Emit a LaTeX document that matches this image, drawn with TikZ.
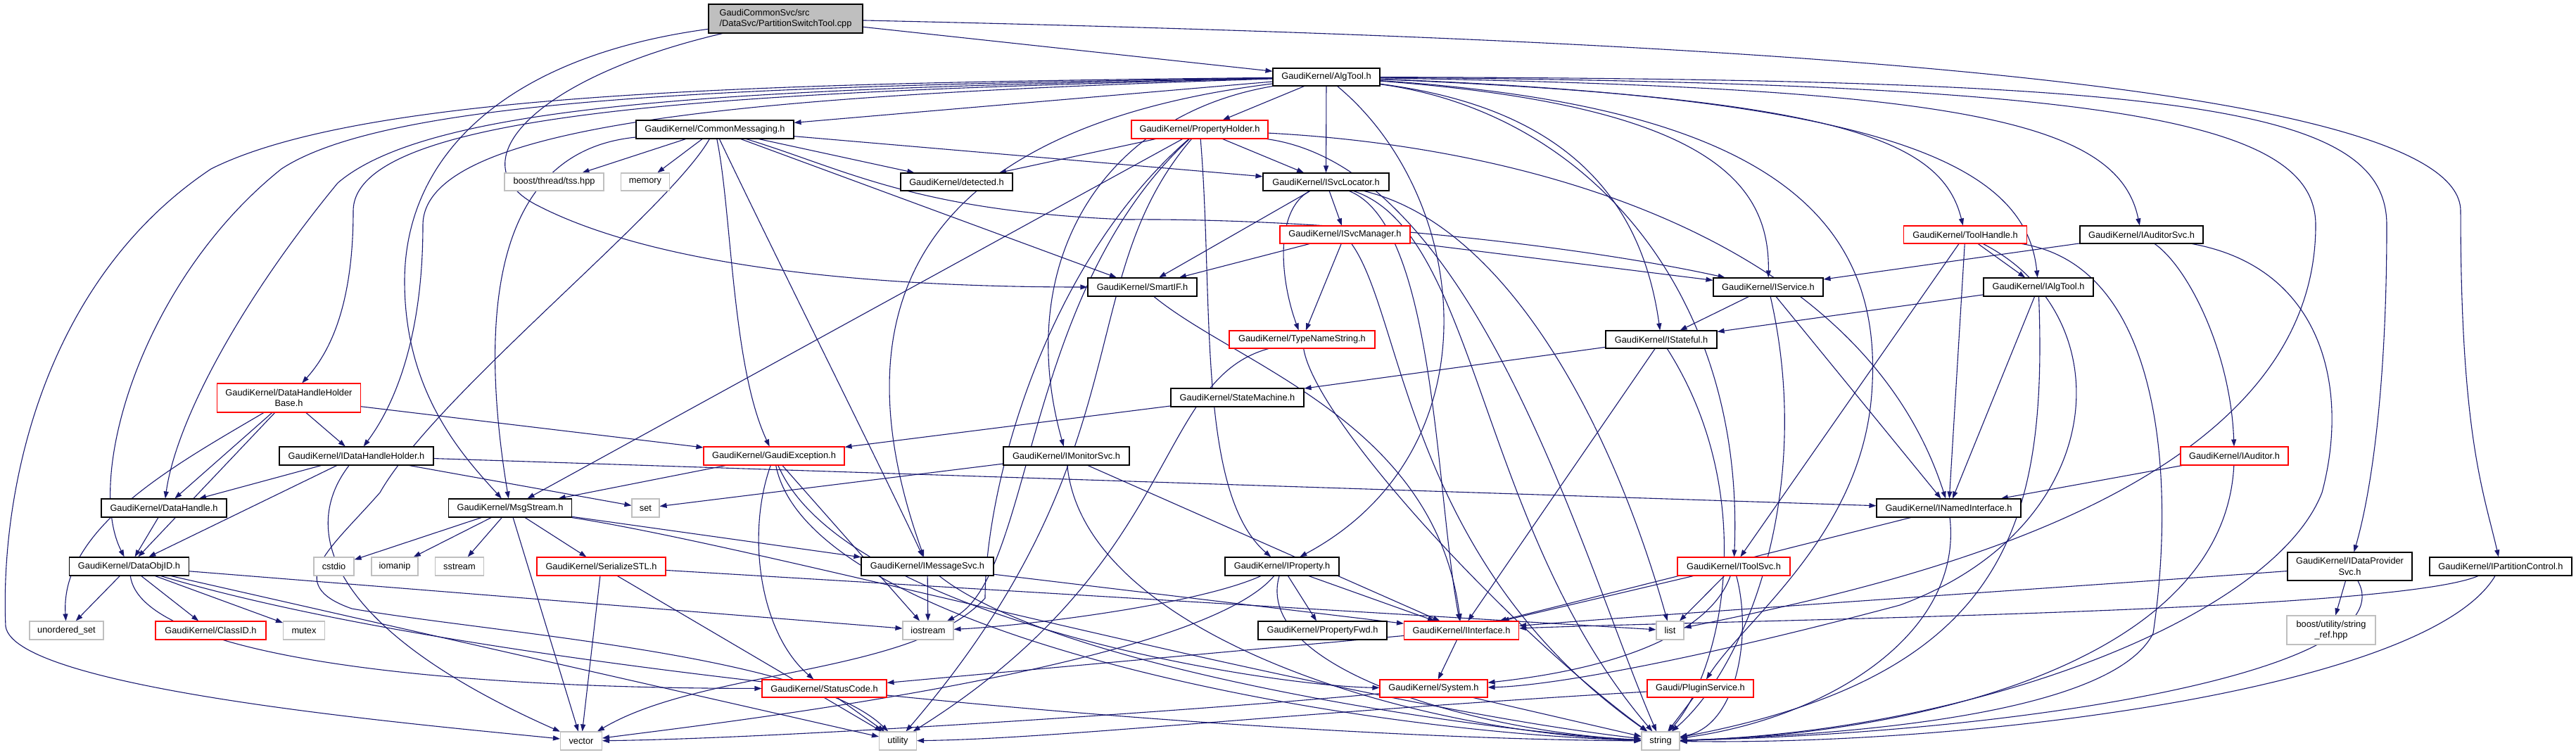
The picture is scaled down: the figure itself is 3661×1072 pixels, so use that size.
\documentclass[tikz,border=0pt]{standalone}
\usepackage{fontspec}
\setmainfont{Liberation Sans}
\usetikzlibrary{arrows.meta}
\definecolor{edgecol}{HTML}{191970}
\definecolor{extgray}{HTML}{BFBFBF}
\definecolor{redbd}{HTML}{FF0000}
\pgfdeclarelayer{bg}
\pgfsetlayers{bg,main}
\newcommand\mynode[6]{\node[#1,minimum width=#4pt,minimum height=#5pt] (#2) at (#3) {#6};}
\begin{document}
\begin{tikzpicture}[x=1pt,y=-1pt,
 nb/.style={draw=black,line width=1.1pt,fill=white,inner sep=1pt,font=\fontsize{12.8}{15.4}\selectfont,align=center,text=black},
 docnode/.style={nb},
 rednode/.style={nb,draw=redbd},
 extnode/.style={nb,draw=extgray},
 rootnode/.style={nb,fill=extgray,align=left},
 conn/.style={draw=edgecol,line width=1.1pt,-{Triangle[length=10pt,width=7pt]}},
]
\useasboundingbox (0,0) rectangle (3661,1072);

\mynode{rootnode}{root}{1116.5,26.5}{219}{41}{GaudiCommonSvc/src\\/DataSvc/PartitionSwitchTool.cpp}
\mynode{docnode}{algtool}{1885,109.5}{152}{25}{GaudiKernel/AlgTool.h}
\mynode{docnode}{cm}{1016,184}{224}{26}{GaudiKernel/CommonMessaging.h}
\mynode{rednode}{ph}{1705,184}{194}{26}{GaudiKernel/PropertyHolder.h}
\mynode{extnode}{tss}{787.5,258.5}{141}{25}{boost/thread/tss.hpp}
\mynode{extnode}{memory}{917,258.5}{69}{25}{memory}
\mynode{docnode}{detected}{1359.5,258.5}{159}{25}{GaudiKernel/detected.h}
\mynode{docnode}{svcloc}{1884.5,258.5}{179}{25}{GaudiKernel/ISvcLocator.h}
\mynode{rednode}{svcmgr}{1911.5,333.5}{185}{25}{GaudiKernel/ISvcManager.h}
\mynode{rednode}{toolhandle}{2793,333.5}{175}{25}{GaudiKernel/ToolHandle.h}
\mynode{docnode}{audsvc}{3043.5,333.5}{175}{25}{GaudiKernel/IAuditorSvc.h}
\mynode{docnode}{smartif}{1623.5,408}{155}{26}{GaudiKernel/SmartIF.h}
\mynode{docnode}{iservice}{2513,408}{156}{26}{GaudiKernel/IService.h}
\mynode{docnode}{ialgtool}{2897,408}{156}{26}{GaudiKernel/IAlgTool.h}
\mynode{rednode}{tns}{1850.5,482.5}{207}{25}{GaudiKernel/TypeNameString.h}
\mynode{docnode}{istateful}{2361,482.5}{158}{25}{GaudiKernel/IStateful.h}
\mynode{docnode}{sm}{1758.5,565}{189}{26}{GaudiKernel/StateMachine.h}
\mynode{rednode}{dhhb}{410.5,565.5}{204}{41}{GaudiKernel/DataHandleHolder\\Base.h}
\mynode{docnode}{idhh}{506.5,648}{219}{26}{GaudiKernel/IDataHandleHolder.h}
\mynode{rednode}{gexc}{1100,648}{200}{26}{GaudiKernel/GaudiException.h}
\mynode{docnode}{imon}{1515.5,648}{179}{26}{GaudiKernel/IMonitorSvc.h}
\mynode{rednode}{iauditor}{3175.5,648}{153}{26}{GaudiKernel/IAuditor.h}
\mynode{docnode}{inamed}{2769.5,722}{205}{26}{GaudiKernel/INamedInterface.h}
\mynode{docnode}{dhandle}{233,722}{178}{26}{GaudiKernel/DataHandle.h}
\mynode{docnode}{msgstream}{725,722}{175}{26}{GaudiKernel/MsgStream.h}
\mynode{extnode}{set}{917.5,722}{39}{26}{set}
\mynode{docnode}{imsg}{1318,805}{188}{26}{GaudiKernel/IMessageSvc.h}
\mynode{docnode}{dataobjid}{183.5,805}{170}{26}{GaudiKernel/DataObjID.h}
\mynode{extnode}{cstdio}{474.5,805}{57}{26}{cstdio}
\mynode{extnode}{iomanip}{561,805}{66}{26}{iomanip}
\mynode{extnode}{sstream}{653,805}{69}{26}{sstream}
\mynode{rednode}{sstl}{854.5,805}{183}{26}{GaudiKernel/SerializeSTL.h}
\mynode{docnode}{iprop}{1822,805}{162}{26}{GaudiKernel/IProperty.h}
\mynode{rednode}{itoolsvc}{2464,805}{160}{26}{GaudiKernel/IToolSvc.h}
\mynode{docnode}{idps}{3339.5,805}{177}{40}{GaudiKernel/IDataProvider\\Svc.h}
\mynode{docnode}{ipc}{3554,805}{202}{26}{GaudiKernel/IPartitionControl.h}
\mynode{extnode}{uset}{94.5,896}{105}{26}{unordered\_set}
\mynode{rednode}{classid}{299.5,896}{157}{26}{GaudiKernel/ClassID.h}
\mynode{extnode}{mutex}{432,896}{59}{26}{mutex}
\mynode{extnode}{iostream}{1319,896}{72}{26}{iostream}
\mynode{docnode}{propfwd}{1879.5,896}{183}{26}{GaudiKernel/PropertyFwd.h}
\mynode{rednode}{iinterface}{2077,896}{163}{26}{GaudiKernel/IInterface.h}
\mynode{extnode}{list}{2373.5,896}{39}{26}{list}
\mynode{extnode}{strref}{3313,895.5}{126}{41}{boost/utility/string\\\_ref.hpp}
\mynode{rednode}{statuscode}{1171.5,978.5}{177}{25}{GaudiKernel/StatusCode.h}
\mynode{rednode}{system}{2037.5,978.5}{153}{25}{GaudiKernel/System.h}
\mynode{rednode}{plugin}{2416.5,978.5}{151}{25}{Gaudi/PluginService.h}
\mynode{extnode}{vector}{826,1053}{59}{26}{vector}
\mynode{extnode}{utility}{1276,1053}{53}{26}{utility}
\mynode{extnode}{string}{2360,1053}{54}{26}{string}

\begin{pgfonlayer}{bg}
\fill[white] (0,0) rectangle (3661,1072);
% root
\draw[conn] (root) -- (algtool);
\draw[conn] (root) .. controls (2400,55) and (3497,110) .. (3497,300) .. controls (3497,620) and (3530,700) .. (ipc);
\draw[conn] (root) .. controls (720,80) and (575,220) .. (575,400) .. controls (575,560) and (660,650) .. (msgstream);
\draw[conn] (root) .. controls (760,110) and (650,230) .. (760,290) .. controls (950,390) and (1300,408) .. (smartif);
% AlgTool
\draw[conn] (algtool) -- (cm);
\draw[conn] (algtool) -- (ph);
\draw[conn] (algtool) -- (svcloc);
\draw[conn] (algtool) .. controls (1100,118) and (520,130) .. (300,240) .. controls (60,400) and (0,700) .. (8,890) .. controls (20,980) and (600,1030) .. (vector);
\draw[conn] (algtool) .. controls (1100,122) and (560,135) .. (400,240) .. controls (200,400) and (120,680) .. (dataobjid);
\draw[conn] (algtool) .. controls (1100,126) and (620,140) .. (480,260) .. controls (340,430) and (250,600) .. (dhandle);
\draw[conn] (algtool) .. controls (1100,130) and (502,150) .. (502,300) .. controls (502,450) and (460,510) .. (dhhb);
\draw[conn] (algtool) .. controls (1100,135) and (601,170) .. (601,320) .. controls (601,500) and (550,590) .. (idhh);
\draw[conn] (algtool) .. controls (1560,165) and (1440,380) .. (imon);
\draw[conn] (algtool) .. controls (1320,180) and (1180,420) .. (imsg);
\draw[conn] (algtool) .. controls (2090,280) and (2130,640) .. (iprop);
\draw[conn] (algtool) .. controls (2200,150) and (2330,260) .. (istateful);
\draw[conn] (algtool) .. controls (2260,160) and (2480,420) .. (itoolsvc);
\draw[conn] (algtool) .. controls (2430,150) and (2515,260) .. (iservice);
\draw[conn] (algtool) .. controls (2500,150) and (2680,300) .. (2660,560) .. controls (2645,760) and (2480,880) .. (plugin);
\draw[conn] (algtool) .. controls (2620,140) and (2760,200) .. (toolhandle);
\draw[conn] (algtool) .. controls (2700,140) and (2880,240) .. (ialgtool);
\draw[conn] (algtool) .. controls (2780,125) and (3010,170) .. (audsvc);
\draw[conn] (algtool) .. controls (3000,118) and (3291,170) .. (3291,320) .. controls (3291,700) and (2700,830) .. (list);
\draw[conn] (algtool) .. controls (3100,112) and (3392,150) .. (3392,320) .. controls (3392,550) and (3370,700) .. (idps);
% CommonMessaging
\draw[conn] (cm) -- (tss);
\draw[conn] (cm) -- (memory);
\draw[conn] (cm) -- (detected);
\draw[conn] (cm) -- (svcloc);
\draw[conn] (cm) -- (smartif);
\draw[conn] (cm) .. controls (700,215) and (680,450) .. (msgstream);
\draw[conn] (cm) .. controls (1040,300) and (1040,520) .. (gexc);
\draw[conn] (cm) .. controls (1090,340) and (1260,680) .. (imsg);
\draw[conn] (cm) .. controls (1200,240) and (1300,300) .. (1600,312) .. controls (1900,310) and (2250,350) .. (iservice);
\draw[conn] (cm) .. controls (950,300) and (620,560) .. (540,700) .. controls (470,780) and (400,830) .. (500,865) .. controls (700,900) and (1150,930) .. (utility);
% PropertyHolder
\draw[conn] (ph) -- (detected);
\draw[conn] (ph) -- (msgstream);
\draw[conn] (ph) -- (svcloc);
\draw[conn] (ph) .. controls (1725,420) and (1700,700) .. (iprop);
\draw[conn] (ph) .. controls (1450,420) and (1470,820) .. (iostream);
\draw[conn] (ph) .. controls (1520,400) and (1630,640) .. (utility);
\draw[conn] (ph) .. controls (1480,380) and (1400,700) .. (1400,850) .. controls (1300,960) and (1000,950) .. (vector);
\draw[conn] (ph) .. controls (2200,210) and (2650,350) .. (inamed);
\draw[conn] (ph) .. controls (2100,240) and (2250,800) .. (string);
% ISvcLocator
\draw[conn] (svcloc) -- (svcmgr);
\draw[conn] (svcloc) -- (smartif);
\draw[conn] (svcloc) .. controls (1810,300) and (1820,400) .. (tns);
\draw[conn] (svcloc) .. controls (2040,320) and (2040,700) .. (iinterface);
\draw[conn] (svcloc) .. controls (2100,330) and (2100,750) .. (string);
\draw[conn] (svcloc) .. controls (2140,320) and (2290,600) .. (list);
% ISvcManager
\draw[conn] (svcmgr) -- (smartif);
\draw[conn] (svcmgr) -- (tns);
\draw[conn] (svcmgr) -- (iservice);
\draw[conn] (svcmgr) .. controls (1995,450) and (2000,800) .. (string);
% ToolHandle
\draw[conn] (toolhandle) -- (ialgtool);
\draw[conn] (toolhandle) -- (inamed);
\draw[conn] (toolhandle) -- (itoolsvc);
\draw[conn] (toolhandle) .. controls (3020,450) and (3000,750) .. (2700,860) .. controls (2400,940) and (2200,975) .. (system);
\draw[conn] (toolhandle) .. controls (3080,380) and (3090,700) .. (3060,900) .. controls (3000,1020) and (2600,1045) .. (string);
% IAuditorSvc
\draw[conn] (audsvc) -- (iservice);
\draw[conn] (audsvc) .. controls (3110,380) and (3170,500) .. (iauditor);
\draw[conn] (audsvc) .. controls (3300,380) and (3340,550) .. (3300,700) .. controls (3230,880) and (2800,1040) .. (string);
% SmartIF
\draw[conn] (smartif) .. controls (1760,520) and (2040,600) .. (iinterface);
% IService
\draw[conn] (iservice) -- (istateful);
\draw[conn] (iservice) -- (inamed);
\draw[conn] (iservice) .. controls (2580,700) and (2480,950) .. (string);
% IAlgTool
\draw[conn] (ialgtool) -- (istateful);
\draw[conn] (ialgtool) -- (inamed);
\draw[conn] (ialgtool) .. controls (2910,750) and (2850,960) .. (string);
% TypeNameString
\draw[conn] (tns) .. controls (1870,600) and (2150,900) .. (string);
\draw[conn] (tns) .. controls (1640,540) and (1680,800) .. (utility);
% IStateful
\draw[conn] (istateful) -- (sm);
\draw[conn] (istateful) -- (iinterface);
\draw[conn] (istateful) .. controls (2500,700) and (2450,950) .. (string);
% StateMachine
\draw[conn] (sm) -- (gexc);
% DataHandleHolderBase
\draw[conn] (dhhb) -- (idhh);
\draw[conn] (dhhb) -- (dhandle);
\draw[conn] (dhhb) -- (dataobjid);
\draw[conn] (dhhb) -- (gexc);
\draw[conn] (dhhb) .. controls (250,660) and (85,750) .. (uset);
% IDataHandleHolder
\draw[conn] (idhh) -- (dhandle);
\draw[conn] (idhh) -- (dataobjid);
\draw[conn] (idhh) -- (set);
\draw[conn] (idhh) -- (inamed);
\draw[conn] (idhh) .. controls (420,760) and (480,900) .. (vector);
% GaudiException
\draw[conn] (gexc) -- (msgstream);
\draw[conn] (gexc) -- (iostream);
\draw[conn] (gexc) .. controls (1060,760) and (1080,900) .. (statuscode);
\draw[conn] (gexc) .. controls (1150,900) and (1900,1040) .. (string);
\draw[conn] (gexc) .. controls (1200,880) and (1800,975) .. (system);
% IMonitorSvc
\draw[conn] (imon) -- (set);
\draw[conn] (imon) -- (iinterface);
\draw[conn] (imon) .. controls (1540,900) and (2000,1040) .. (string);
% IMessageSvc
\draw[conn] (imsg) -- (iostream);
\draw[conn] (imsg) -- (iinterface);
\draw[conn] (imsg) .. controls (1500,950) and (2100,1040) .. (string);
% IAuditor
\draw[conn] (iauditor) -- (inamed);
\draw[conn] (iauditor) .. controls (3160,950) and (2700,1045) .. (string);
% INamedInterface
\draw[conn] (inamed) -- (iinterface);
\draw[conn] (inamed) .. controls (2790,900) and (2600,1020) .. (string);
% DataHandle
\draw[conn] (dhandle) -- (dataobjid);
% MsgStream
\draw[conn] (msgstream) -- (cstdio);
\draw[conn] (msgstream) -- (iomanip);
\draw[conn] (msgstream) -- (sstream);
\draw[conn] (msgstream) -- (sstl);
\draw[conn] (msgstream) -- (vector);
\draw[conn] (msgstream) -- (imsg);
\draw[conn] (msgstream) .. controls (1100,780) and (1900,1000) .. (string);
% DataObjID
\draw[conn] (dataobjid) -- (uset);
\draw[conn] (dataobjid) -- (classid);
\draw[conn] (dataobjid) -- (mutex);
\draw[conn] (dataobjid) -- (iostream);
\draw[conn] (dataobjid) -- (utility);
\draw[conn] (dataobjid) .. controls (200,930) and (600,978) .. (statuscode);
\draw[conn] (dataobjid) .. controls (700,960) and (1800,1050) .. (string);
% SerializeSTL
\draw[conn] (sstl) -- (list);
\draw[conn] (sstl) -- (vector);
\draw[conn] (sstl) -- (utility);
% IProperty
\draw[conn] (iprop) -- (propfwd);
\draw[conn] (iprop) -- (iinterface);
\draw[conn] (iprop) .. controls (1700,860) and (1450,890) .. (iostream);
\draw[conn] (iprop) .. controls (1780,950) and (2100,1040) .. (string);
\draw[conn] (iprop) .. controls (1700,950) and (1000,1030) .. (vector);
% IToolSvc
\draw[conn] (itoolsvc) -- (iinterface);
\draw[conn] (itoolsvc) -- (list);
\draw[conn] (itoolsvc) .. controls (2430,900) and (2300,950) .. (system);
\draw[conn] (itoolsvc) .. controls (2490,900) and (2470,1030) .. (string);
% IDataProviderSvc
\draw[conn] (idps) -- (strref);
\draw[conn] (idps) .. controls (3000,830) and (2400,870) .. (iinterface);
\draw[conn] (idps) .. controls (3420,950) and (2900,1040) .. (string);
% IPartitionControl
\draw[conn] (ipc) .. controls (3400,870) and (2500,880) .. (iinterface);
\draw[conn] (ipc) .. controls (3450,980) and (2800,1060) .. (string);
% IInterface
\draw[conn] (iinterface) -- (system);
\draw[conn] (iinterface) -- (statuscode);
% System
\draw[conn] (system) -- (string);
\draw[conn] (system) .. controls (1700,1010) and (1100,1050) .. (vector);
% StatusCode
\draw[conn] (statuscode) -- (utility);
% PluginService
\draw[conn] (plugin) -- (string);
\draw[conn] (plugin) .. controls (1800,1015) and (1500,1050) .. (utility);
\end{pgfonlayer}
\end{tikzpicture}
\end{document}
